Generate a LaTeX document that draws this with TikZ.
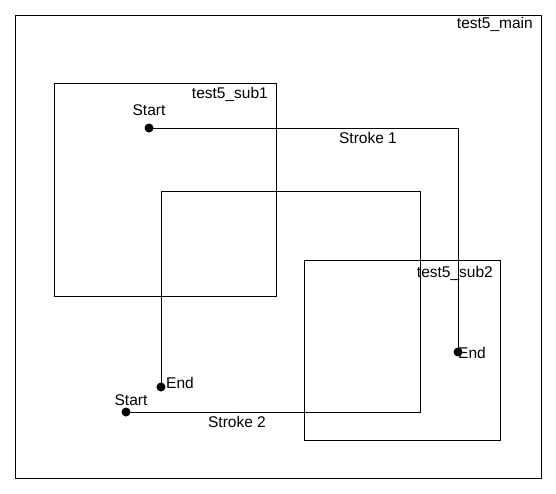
\documentclass[tikz,border=0pt]{standalone}
\usepackage{fontspec}
\setmainfont{Liberation Sans}
\tikzset{
  frame/.style={draw,thick,line width=0.9pt},
  dot/.style={circle,fill=black,inner sep=0pt,minimum size=9pt},
  lbl/.style={inner sep=0pt,font=\fontsize{15.5}{18}\selectfont}
}
\begin{document}
\begin{tikzpicture}[x=1pt,y=-1pt]
\useasboundingbox (0,0) rectangle (556,493);
% boxes
\draw[frame] (15,15) rectangle (541,478);
\node[lbl,anchor=base east] (mainlbl) at (533,28) {test5\_main};
\draw[frame] (54,83) rectangle (276,296);
\node[lbl,anchor=base east] (sub1lbl) at (268,98) {test5\_sub1};
\draw[frame] (304,260) rectangle (500,440);
\node[lbl,anchor=base east] (sub2lbl) at (493,277) {test5\_sub2};

% stroke 1
\node[dot] (s1a) at (149,128) {};
\node[dot] (s1b) at (458,352) {};
\coordinate (s1c) at (458,128);
\draw[frame] (s1a.center) -- (s1c) -- (s1b.center);
\node[lbl] (s1start) at (149,110) {Start};
\node[lbl,anchor=west] (s1end) at (458,353) {End};
\node[lbl] (s1name) at (368,138) {Stroke 1};

% stroke 2
\node[dot] (s2a) at (126,412) {};
\node[dot] (s2b) at (161,387) {};
\coordinate (s2c) at (420,412);
\coordinate (s2d) at (420,191);
\coordinate (s2e) at (161,191);
\draw[frame] (s2a.center) -- (s2c) -- (s2d) -- (s2e) -- (s2b.center);
\node[lbl] (s2start) at (131,400) {Start};
\node[lbl,anchor=west] (s2end) at (166,383) {End};
\node[lbl] (s2name) at (237,422) {Stroke 2};
\end{tikzpicture}
\end{document}
